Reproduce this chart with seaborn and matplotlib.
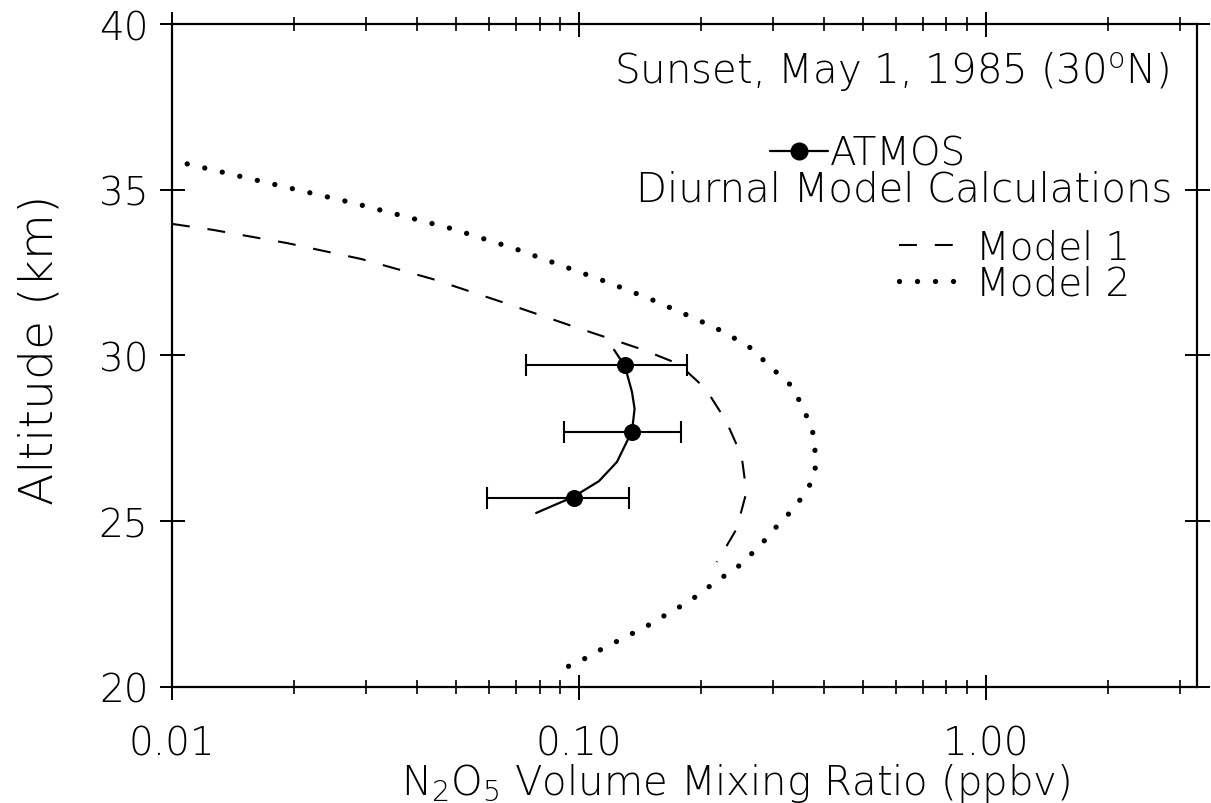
import numpy as np
import pandas as pd
import matplotlib
matplotlib.use("Agg")
import matplotlib.pyplot as plt
import matplotlib.ticker as mticker
from matplotlib.lines import Line2D
import seaborn as sns

# ---------------- data ----------------
atmos_alt = [29.7, 27.7, 25.7]
atmos_vmr = [0.130, 0.135, 0.097]
atmos_lo = [0.074, 0.092, 0.0595]
atmos_hi = [0.184, 0.178, 0.133]

atmos_fit_alt = [25.25, 25.73, 26.21, 26.79, 27.72, 28.39, 28.90, 29.68, 30.17]
atmos_fit_vmr = [0.0785, 0.0967, 0.112, 0.124, 0.135, 0.137, 0.135, 0.1297, 0.122]

model1_alt = [33.97, 33.79, 33.39, 32.91, 32.31, 31.61, 30.89, 30.17, 29.74,
              28.99, 28.02, 26.97, 25.88, 24.77, 23.95, 23.77]
model1_vmr = [0.0100, 0.0126, 0.0192, 0.0292, 0.0436, 0.0648, 0.0961, 0.144,
              0.176, 0.205, 0.230, 0.251, 0.258, 0.244, 0.223, 0.218]

model2_alt = [35.78, 34.60, 33.82, 33.21, 32.22, 31.70, 31.10, 30.71, 30.23,
              29.65, 29.11, 28.48, 27.72, 26.82, 26.46, 26.06, 25.43, 24.86,
              24.25, 23.65, 23.14, 22.59, 22.11, 21.84, 21.42, 21.00, 20.75, 20.57]
model2_vmr = [0.0109, 0.0279, 0.0489, 0.0701, 0.117, 0.150, 0.194, 0.227, 0.264,
              0.296, 0.331, 0.354, 0.375, 0.383, 0.379, 0.368, 0.340, 0.307,
              0.278, 0.247, 0.215, 0.187, 0.160, 0.147, 0.126, 0.108, 0.100, 0.0919]

x_major = [0.01, 0.1, 1.0]
y_ticks = [20, 25, 30, 35, 40]

title_text = "Sunset, May 1, 1985 (30$^{\\mathregular{o}}$N)"
sub_text = "Diurnal Model Calculations"
labels = ["ATMOS", "Model 1", "Model 2"]

# ---------------- style ----------------
sns.set_theme(style="ticks")
plt.rcParams["font.family"] = ["DejaVu Sans"]
plt.rcParams["font.weight"] = "light"
plt.rcParams["axes.labelweight"] = "light"
plt.rcParams["mathtext.default"] = "regular"
for k in ["text.color", "axes.labelcolor", "xtick.color", "ytick.color",
          "xtick.labelcolor", "ytick.labelcolor", "axes.edgecolor"]:
    plt.rcParams[k] = "black"

fig, ax = plt.subplots(figsize=(12.11, 8.04), dpi=100)
fig.subplots_adjust(left=0.142, right=0.9884, bottom=0.1443, top=0.9689)

DASH = (0, (8.6, 8.6))
DOT = (0, (0.01, 3.4))

m1 = pd.DataFrame({"vmr": model1_vmr, "alt": model1_alt})
m2 = pd.DataFrame({"vmr": model2_vmr, "alt": model2_alt})
fit = pd.DataFrame({"vmr": atmos_fit_vmr, "alt": atmos_fit_alt})
pts = pd.DataFrame({"vmr": atmos_vmr, "alt": atmos_alt})

sns.lineplot(data=m1, x="vmr", y="alt", sort=False, estimator=None, ax=ax,
             color="black", lw=1.5, linestyle=DASH)
sns.lineplot(data=m2, x="vmr", y="alt", sort=False, estimator=None, ax=ax,
             color="black", lw=3.8, linestyle=DOT, dash_capstyle="round")
sns.lineplot(data=fit, x="vmr", y="alt", sort=False, estimator=None, ax=ax,
             color="black", lw=1.6)
xerr = [np.array(atmos_vmr) - np.array(atmos_lo), np.array(atmos_hi) - np.array(atmos_vmr)]
ax.errorbar(atmos_vmr, atmos_alt, xerr=xerr, fmt="none", ecolor="black",
            elinewidth=1.5, capsize=8, capthick=1.5)
sns.scatterplot(data=pts, x="vmr", y="alt", ax=ax, color="black", s=150,
                linewidth=0, zorder=5)

ax.set_xscale("log")
ax.set_xlim(0.01, 3.3)
ax.set_ylim(20, 40)
ax.xaxis.set_major_locator(mticker.FixedLocator(x_major))
ax.xaxis.set_major_formatter(mticker.FormatStrFormatter("%.2f"))
ax.xaxis.set_minor_locator(mticker.LogLocator(base=10, subs=np.arange(2, 10)))
ax.xaxis.set_minor_formatter(mticker.NullFormatter())
ax.set_yticks(y_ticks)

ax.tick_params(axis="both", which="major", direction="inout", length=18,
               width=1.4, color="black", labelcolor="black", labelsize=28,
               top=True, right=True, pad=8)
ax.tick_params(axis="x", which="major", pad=18)
ax.tick_params(axis="x", which="minor", direction="inout", length=10,
               width=1.2, color="black", top=True)
for s in ax.spines.values():
    s.set_linewidth(1.6)
    s.set_color("black")

ax.set_xlabel("N$_{\\mathregular{2}}$O$_{\\mathregular{5}}$ Volume Mixing Ratio (ppbv)",
              fontsize=29, color="black")
ax.set_ylabel("Altitude (km)", fontsize=34, color="black")
ax.xaxis.set_label_coords(0.55, -0.112)
ax.yaxis.set_label_coords(-0.108, 0.51)

ax.text(0.973, 0.929, title_text, transform=ax.transAxes, ha="right",
        va="center", fontsize=29, color="black")
ax.text(0.976, 0.751, sub_text, transform=ax.transAxes, ha="right",
        va="center", fontsize=29, color="black")

h_atmos = Line2D([], [], color="black", lw=1.6, marker="o", ms=12)
leg1 = ax.legend([h_atmos], [labels[0]], loc="center", bbox_to_anchor=(0.679, 0.804),
                 frameon=False, fontsize=28, handlelength=1.5, handletextpad=0.05,
                 borderpad=0, numpoints=1, labelcolor="black")
ax.add_artist(leg1)
h_m1 = Line2D([], [], color="black", lw=1.5, linestyle=DASH)
h_m2 = Line2D([], [], color="black", lw=3.8, linestyle=DOT, dash_capstyle="round")
ax.legend([h_m1, h_m2], labels[1:], loc="center", bbox_to_anchor=(0.822, 0.636),
          frameon=False, fontsize=28, handlelength=1.5, handletextpad=0.5,
          borderpad=0, labelspacing=-0.05, labelcolor="black")

fig.savefig("out.png", dpi=100)
